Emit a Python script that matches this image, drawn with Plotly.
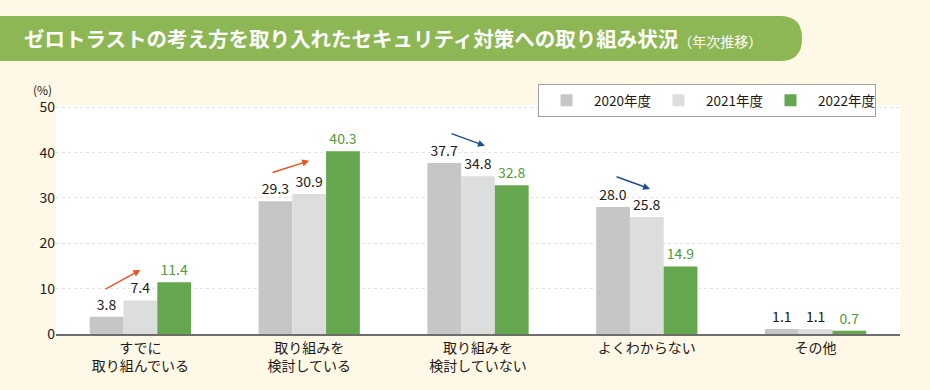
import plotly.graph_objects as go

categories = ["すでに<br>取り組んでいる", "取り組みを<br>検討している", "取り組みを<br>検討していない", "よくわからない", "その他"]
series_names = ["2020年度", "2021年度", "2022年度"]
values_2020 = [3.8, 29.3, 37.7, 28.0, 1.1]
values_2021 = [7.4, 30.9, 34.8, 25.8, 1.1]
values_2022 = [11.4, 40.3, 32.8, 14.9, 0.7]
y_ticks = [0, 10, 20, 30, 40, 50]

# trend arrows: (category index, tail offset, tail y, head offset, head y, color)
arrows = [
    (0, -0.216, 9.7, 0.0, 14.1, "#E9541E"),
    (1, -0.226, 35.5, 0.0, 38.2, "#E9541E"),
    (2, -0.166, 44.3, 0.041, 41.5, "#1E4E8E"),
    (3, -0.188, 34.8, 0.019, 32.0, "#1E4E8E"),
]

W, H = 930, 390
L, R, T, B = 56, 30, 105, 56
FONT = "Noto Sans CJK JP"
DARK = "#231815"
bar_colors = ["#C5C6C8", "#DCDDDD", "#65A74F"]
text_colors = [DARK, DARK, "#4E9C3A"]

fig = go.Figure()
x_idx = list(range(len(categories)))
for name, vals, col, tcol in zip(series_names, [values_2020, values_2021, values_2022], bar_colors, text_colors):
    fig.add_trace(go.Bar(
        x=x_idx, y=vals, name=name,
        marker=dict(color=col, line=dict(width=0)),
        text=[f"{v:.1f}" for v in vals], textposition="outside",
        textfont=dict(family=FONT, size=14, color=tcol),
        cliponaxis=False,
    ))

pw = W - L - R
ph = H - T - B
def px_x(p):
    return (p - L) / pw
def px_y(p):
    return (H - B - p) / ph

# title banner with rounded right end
x0, x1, y0, y1, r = px_x(0), px_x(802), px_y(16), px_y(61), 22
rx = r / pw
ry = r / ph
path = (f"M {x0},{y0} L {x1 - rx},{y0} Q {x1},{y0} {x1},{y0 - ry} "
        f"L {x1},{y1 + ry} Q {x1},{y1} {x1 - rx},{y1} L {x0},{y1} Z")
shapes = [dict(type="path", xref="paper", yref="paper", path=path,
               fillcolor="#8DB754", line=dict(width=0), layer="below")]

annotations = [
    dict(text="(%)", xref="paper", yref="paper", x=px_x(42), y=px_y(89),
         xanchor="center", yanchor="middle",
         showarrow=False, font=dict(family=FONT, size=12, color=DARK)),
]
for ci, tdx, ty, hdx, hy, col in arrows:
    annotations.append(dict(
        x=ci + hdx, y=hy, ax=ci + tdx, ay=ty, xref="x", yref="y", axref="x", ayref="y",
        showarrow=True, arrowhead=2, arrowsize=1, arrowwidth=1.4, arrowcolor=col, text="",
    ))

fig.update_layout(
    width=W, height=H,
    margin=dict(l=L, r=R, t=T, b=B, autoexpand=False),
    paper_bgcolor="#FFF8E7", plot_bgcolor="#FFFFFF",
    barmode="group", bargap=0.40, bargroupgap=0,
    font=dict(family=FONT, size=14, color=DARK),
    title=dict(
        text="ゼロトラストの考え方を取り入れたセキュリティ対策への取り組み状況<span style='font-size:14px;font-weight:400'>（年次推移）</span>",
        x=24 / W, xanchor="left", y=1 - 40 / H, yanchor="middle",
        font=dict(family=FONT, size=20.5, color="#FFFFFF", weight=600),
    ),
    xaxis=dict(tickmode="array", tickvals=x_idx, ticktext=categories,
               range=[-0.5, len(categories) - 0.5],
               showline=True, linecolor="#6E6E6E", linewidth=2, ticks="",
               tickfont=dict(family=FONT, size=14, color=DARK), showgrid=False),
    yaxis=dict(range=[0, 50.5], tickvals=y_ticks, showline=False, zeroline=False,
               gridcolor="#E3E3E3", griddash="dot", gridwidth=1, ticks="",
               tickfont=dict(family=FONT, size=14, color=DARK)),
    legend=dict(orientation="h", x=px_x(538), y=px_y(84), xanchor="left", yanchor="top",
                bgcolor="#FFFFFF", bordercolor="#A0A0A0", borderwidth=1,
                font=dict(family=FONT, size=13.5, color=DARK),
                entrywidth=52, itemwidth=45),
    shapes=shapes,
    annotations=annotations,
)

fig.write_html("out.html", post_script="document.body.style.margin='0';",
               config={"displayModeBar": False})
